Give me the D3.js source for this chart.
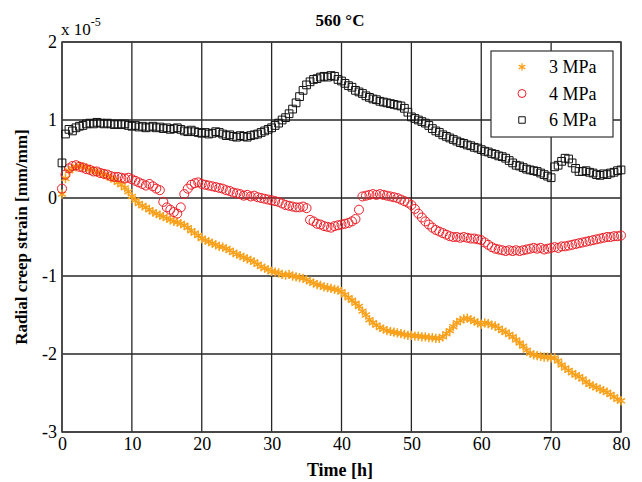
<!DOCTYPE html>
<html>
<head>
<meta charset="utf-8">
<script src="https://cdn.jsdelivr.net/npm/d3@7"></script>
<style>
  body { margin: 0; background: #fff; }
  svg text { font-family: "Liberation Serif", "Times New Roman", serif; fill: #000; }
</style>
</head>
<body>
<svg id="chart" width="642" height="482"></svg>
<script>
// Temps de mesure [h], un point toutes les 30 min
const times = d3.range(0, 80.01, 0.5)

// Déformation radiale (x 1e-5) par charge
const strain3MPa = [
  0.05, 0.25, 0.35, 0.38, 0.40, 0.41, 0.40, 0.39, 0.37, 0.35,
  0.33, 0.32, 0.30, 0.28, 0.26, 0.23, 0.20, 0.17, 0.13, 0.08,
  0.02, -0.03, -0.07, -0.10, -0.12, -0.15, -0.18, -0.20, -0.22, -0.24,
  -0.26, -0.28, -0.30, -0.31, -0.33, -0.35, -0.38, -0.42, -0.45, -0.48,
  -0.52, -0.54, -0.56, -0.58, -0.60, -0.62, -0.63, -0.65, -0.67, -0.70,
  -0.72, -0.74, -0.76, -0.78, -0.80, -0.82, -0.85, -0.88, -0.90, -0.92,
  -0.94, -0.95, -0.96, -0.98, -0.99, -0.98, -1.00, -1.01, -1.02, -1.03,
  -1.05, -1.07, -1.09, -1.11, -1.12, -1.14, -1.15, -1.16, -1.17, -1.18,
  -1.20, -1.24, -1.28, -1.31, -1.35, -1.39, -1.45, -1.50, -1.56, -1.60,
  -1.63, -1.66, -1.68, -1.70, -1.71, -1.72, -1.73, -1.74, -1.75, -1.76,
  -1.76, -1.77, -1.77, -1.78, -1.78, -1.79, -1.79, -1.80, -1.80, -1.78,
  -1.74, -1.70, -1.65, -1.60, -1.57, -1.55, -1.54, -1.56, -1.58, -1.60,
  -1.62, -1.60, -1.61, -1.63, -1.64, -1.67, -1.70, -1.72, -1.75, -1.78,
  -1.82, -1.86, -1.90, -1.95, -1.99, -2.01, -2.02, -2.03, -2.04, -2.04,
  -2.05, -2.05, -2.09, -2.14, -2.18, -2.21, -2.24, -2.27, -2.29, -2.32,
  -2.36, -2.39, -2.41, -2.43, -2.45, -2.47, -2.49, -2.52, -2.55, -2.58,
  -2.60
]
const strain4MPa = [
  0.12, 0.30, 0.38, 0.41, 0.42, 0.40, 0.39, 0.37, 0.36, 0.34,
  0.34, 0.32, 0.31, 0.30, 0.28, 0.27, 0.27, 0.26, 0.25, 0.26,
  0.24, 0.22, 0.20, 0.18, 0.16, 0.18, 0.15, 0.12, 0.10, -0.05,
  -0.12, -0.15, -0.18, -0.20, -0.12, 0.05, 0.12, 0.17, 0.19, 0.20,
  0.18, 0.17, 0.16, 0.15, 0.14, 0.13, 0.12, 0.10, 0.09, 0.07,
  0.06, 0.05, 0.03, 0.04, 0.02, 0.03, 0.01, 0.00, -0.01, -0.02,
  -0.03, -0.04, -0.05, -0.07, -0.09, -0.10, -0.11, -0.12, -0.12, -0.11,
  -0.13, -0.28, -0.30, -0.33, -0.34, -0.36, -0.37, -0.38, -0.36, -0.35,
  -0.34, -0.33, -0.32, -0.30, -0.27, -0.15, 0.02, 0.03, 0.04, 0.05,
  0.04, 0.05, 0.04, 0.03, 0.02, 0.01, 0.00, -0.02, -0.04, -0.06,
  -0.09, -0.14, -0.20, -0.25, -0.30, -0.34, -0.38, -0.41, -0.43, -0.45,
  -0.47, -0.49, -0.50, -0.50, -0.51, -0.50, -0.51, -0.52, -0.52, -0.53,
  -0.54, -0.57, -0.60, -0.63, -0.65, -0.66, -0.67, -0.68, -0.67, -0.68,
  -0.67, -0.68, -0.67, -0.66, -0.65, -0.64, -0.65, -0.64, -0.66, -0.65,
  -0.64, -0.63, -0.64, -0.62, -0.62, -0.61, -0.60, -0.59, -0.58, -0.57,
  -0.56, -0.55, -0.54, -0.53, -0.52, -0.51, -0.50, -0.50, -0.49, -0.49,
  -0.48
]
const strain6MPa = [
  0.45, 0.82, 0.88, 0.86, 0.90, 0.92, 0.93, 0.95, 0.96, 0.95,
  0.97, 0.96, 0.95, 0.96, 0.95, 0.94, 0.95, 0.94, 0.95, 0.93,
  0.92, 0.93, 0.91, 0.92, 0.90, 0.91, 0.92, 0.90, 0.91, 0.89,
  0.90, 0.88, 0.89, 0.90, 0.88, 0.86, 0.85, 0.87, 0.85, 0.84,
  0.83, 0.84, 0.82, 0.83, 0.85, 0.84, 0.82, 0.80, 0.81, 0.79,
  0.78, 0.80, 0.79, 0.78, 0.80, 0.81, 0.82, 0.84, 0.86, 0.88,
  0.90, 0.93, 0.96, 1.00, 1.03, 1.08, 1.14, 1.22, 1.30, 1.38,
  1.45, 1.49, 1.52, 1.53, 1.55, 1.56, 1.55, 1.57, 1.56, 1.52,
  1.50, 1.47, 1.44, 1.42, 1.38, 1.36, 1.34, 1.31, 1.29, 1.27,
  1.26, 1.24, 1.23, 1.22, 1.21, 1.20, 1.19, 1.18, 1.15, 1.10,
  1.04, 1.02, 1.00, 0.98, 0.96, 0.93, 0.89, 0.86, 0.84, 0.81,
  0.79, 0.77, 0.75, 0.73, 0.71, 0.70, 0.68, 0.67, 0.65, 0.64,
  0.62, 0.60, 0.59, 0.57, 0.56, 0.54, 0.53, 0.51, 0.48, 0.45,
  0.42, 0.41, 0.39, 0.37, 0.36, 0.35, 0.34, 0.32, 0.30, 0.28,
  0.26, 0.40, 0.42, 0.47, 0.51, 0.50, 0.45, 0.38, 0.34, 0.34,
  0.35, 0.33, 0.32, 0.30, 0.29, 0.31, 0.30, 0.32, 0.33, 0.35,
  0.36
]

const seriesNames = ['3 MPa', '4 MPa', '6 MPa']
const xTicks = [0, 10, 20, 30, 40, 50, 60, 70, 80]
const yTicks = [2, 1, 0, -1, -2, -3]

// Marge de la zone de tracé
const margin = { top: 42, right: 21, bottom: 50, left: 62 }
const width = 642 - margin.left - margin.right
const height = 482 - margin.top - margin.bottom

const svg = d3.select('#chart')
const g = svg.append('g').attr('transform', 'translate(' + margin.left + ',' + margin.top + ')')

const x = d3.scaleLinear().domain([0, 80]).range([0, width])
const y = d3.scaleLinear().domain([-3, 2]).range([height, 0])

//Grille
g.append('g')
  .selectAll('line')
  .data(xTicks)
  .enter()
  .append('line')
  .attr('x1', d => x(d)).attr('x2', d => x(d))
  .attr('y1', 0).attr('y2', height)
  .attr('stroke', '#262626').attr('stroke-width', 1.3)
g.append('g')
  .selectAll('line')
  .data(yTicks)
  .enter()
  .append('line')
  .attr('x1', 0).attr('x2', width)
  .attr('y1', d => y(d)).attr('y2', d => y(d))
  .attr('stroke', '#262626').attr('stroke-width', 1.3)

//Axes (format entier, tiret simple comme l'original)
const fmt = d => String(d)
const xAxis = g.append('g')
  .attr('transform', 'translate(0,' + height + ')')
  .call(d3.axisBottom(x).tickValues(xTicks).tickFormat(fmt).tickSize(0).tickPadding(4))
const yAxis = g.append('g')
  .call(d3.axisLeft(y).tickValues(yTicks).tickFormat(fmt).tickSize(0).tickPadding(5))
;[xAxis, yAxis].forEach(a => {
  a.attr('font-family', null).attr('font-size', null)
  a.select('.domain').remove()
  a.selectAll('text').style('font-size', '18px')
})
xAxis.selectAll('text').attr('dy', '0.75em')

g.append('rect')
  .attr('width', width).attr('height', height)
  .attr('fill', 'none').attr('stroke', '#404040').attr('stroke-width', 1.5)

//Marqueurs
const asterisk = d3.symbol().type(d3.symbolAsterisk).size(60)
const square = d3.symbol().type(d3.symbolSquare).size(60)

const pts = vals => vals.map((v, i) => ({ t: times[i], v: v }))

g.append('g')
  .selectAll('path')
  .data(pts(strain3MPa))
  .enter()
  .append('path')
  .attr('d', asterisk)
  .attr('transform', d => 'translate(' + x(d.t) + ',' + y(d.v) + ')')
  .attr('fill', 'none').attr('stroke', '#f9a11b').attr('stroke-width', 1.5)

g.append('g')
  .selectAll('circle')
  .data(pts(strain4MPa))
  .enter()
  .append('circle')
  .attr('cx', d => x(d.t)).attr('cy', d => y(d.v)).attr('r', 4.5)
  .attr('fill', 'none').attr('stroke', '#ec1c24').attr('stroke-width', 1)

g.append('g')
  .selectAll('path')
  .data(pts(strain6MPa))
  .enter()
  .append('path')
  .attr('d', square)
  .attr('transform', d => 'translate(' + x(d.t) + ',' + y(d.v) + ')')
  .attr('fill', 'none').attr('stroke', '#111').attr('stroke-width', 1)

//Légende
const lg = svg.append('g').attr('transform', 'translate(491,51)')
lg.append('rect').attr('width', 122).attr('height', 86)
  .attr('fill', '#fff').attr('stroke', '#333').attr('stroke-width', 1.2)
const legAst = d3.symbol().type(d3.symbolAsterisk).size(40)
const legSq = d3.symbol().type(d3.symbolSquare).size(42)
seriesNames.forEach((name, i) => {
  const cy = 16 + i * 26.5
  if (i === 0) {
    lg.append('path').attr('d', legAst).attr('transform', 'translate(31,' + cy + ')')
      .attr('fill', 'none').attr('stroke', '#f9a11b').attr('stroke-width', 1.3)
  } else if (i === 1) {
    lg.append('circle').attr('cx', 31).attr('cy', cy).attr('r', 4)
      .attr('fill', 'none').attr('stroke', '#ec1c24')
  } else {
    lg.append('path').attr('d', legSq).attr('transform', 'translate(31,' + cy + ')')
      .attr('fill', 'none').attr('stroke', '#111')
  }
  lg.append('text').attr('x', 58).attr('y', cy).attr('dy', '0.35em')
    .style('font-size', '18px').text(name)
})

//Titres
svg.append('text').attr('x', 340).attr('y', 26).attr('text-anchor', 'middle')
  .style('font-size', '17px').style('font-weight', 'bold').text('560 °C')
svg.append('text').attr('x', 340).attr('y', 476).attr('text-anchor', 'middle')
  .style('font-size', '18px').style('font-weight', 'bold').text('Time [h]')
svg.append('text')
  .attr('transform', 'translate(27,' + (margin.top + height / 2) + ') rotate(-90)')
  .attr('text-anchor', 'middle')
  .style('font-size', '17px').style('font-weight', 'bold').text('Radial creep strain [mm/mm]')

const expo = svg.append('text').attr('x', 61).attr('y', 35).style('font-size', '17px')
expo.append('tspan').text('x 10')
expo.append('tspan').attr('dy', -9).style('font-size', '12px').text('-5')
</script>
</body>
</html>
